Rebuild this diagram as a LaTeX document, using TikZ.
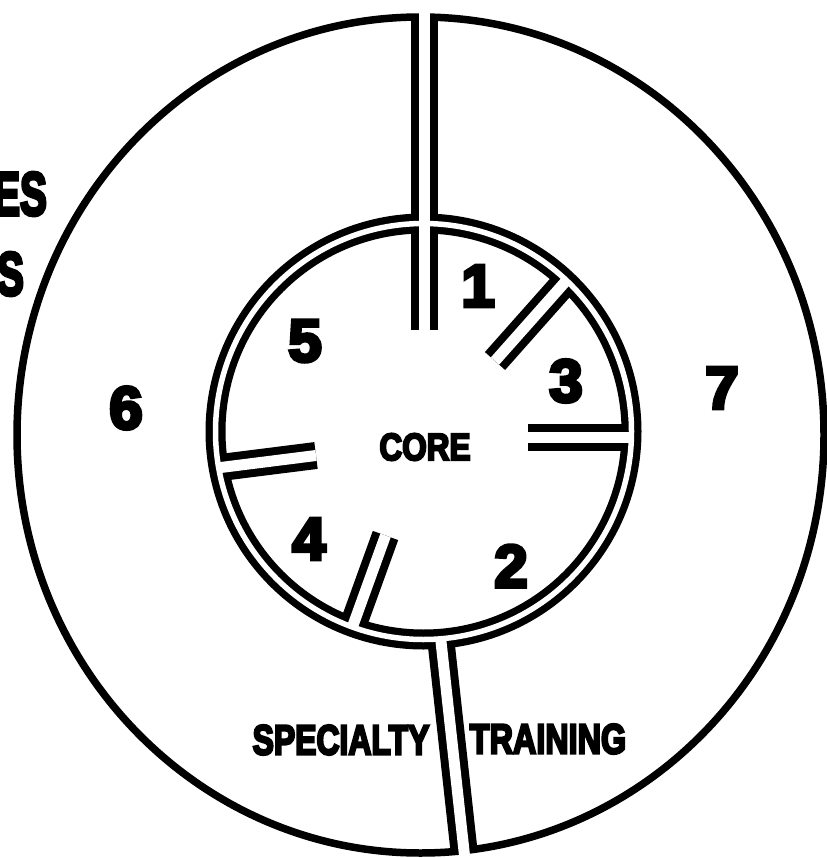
\documentclass[tikz,border=0pt]{standalone}
\usepackage{fontspec}
\newfontfamily\heavy{Liberation Sans}[BoldFeatures={FakeBold=6}]
\tikzset{
  wallout/.style={line width=27pt},
  wallin/.style={white,line width=11pt},
  ringout/.style={line width=20pt},
  ringin/.style={white,line width=5.5pt},
  num/.style={inner sep=0pt,font=\heavy\bfseries\fontsize{60}{60}\selectfont},
  word/.style={inner sep=0pt,font=\heavy\bfseries\fontsize{42}{42}\selectfont},
}
\begin{document}
\begin{tikzpicture}[x=1pt,y=-1pt]
  \useasboundingbox (0,0) rectangle (826,858);
  \coordinate (c) at (423.5,431.5);
  \coordinate (o) at (420.5,435);
  \coordinate (topin) at (424,330);
  \coordinate (topout) at (424,17);
  \coordinate (topcut) at (424,6);
  \coordinate (diagin) at (495,361);
  \coordinate (diagout) at (566,281);
  \coordinate (rightin) at (528,437.5);
  \coordinate (rightout) at (631.4,437.5);
  \coordinate (lowin) at (385.5,535.5);
  \coordinate (lowout) at (352.5,626.7);
  \coordinate (leftin) at (316,455.5);
  \coordinate (leftout) at (218.8,467.75);
  \coordinate (botin) at (440.7,639);
  \coordinate (botout) at (464,850.6);
  \coordinate (botcut) at (465,860);
  \draw[line width=7.5pt] (o) ellipse [x radius=403.5pt, y radius=418pt];
  \draw[ringout] (c) circle [radius=208pt];
  \foreach \a/\b in {topin/topout,diagin/diagout,rightin/rightout,lowin/lowout,leftin/leftout,botin/botout}
    \draw[wallout] (\a) -- (\b);
  \draw[ringin] (c) circle [radius=208pt];
  \foreach \a/\b in {topin/topcut,diagin/diagout,rightin/rightout,lowin/lowout,leftin/leftout,botin/botcut}
    \draw[wallin] (\a) -- (\b);
  \node[num] (one) at (478,286) {1};
  \node[num] (two) at (511,566) {2};
  \node[num] (three) at (566,381) {3};
  \node[num] (four) at (309,539) {4};
  \node[num] (five) at (305,341) {5};
  \node[num] (six) at (126,408) {6};
  \node[num] (seven) at (722,388) {7};
  \node[word,font=\heavy\bfseries\fontsize{38}{38}\selectfont,xscale=0.83] (core) at (425,447) {CORE};
  \node[word,xscale=0.76] (spec) at (341,740) {SPECIALTY};
  \node[word,xscale=0.77] (train) at (548,739) {TRAINING};
  \node[num,font=\heavy\bfseries\fontsize{61}{61}\selectfont,xscale=0.66,anchor=east] (es) at (47,194) {ES};
  \node[num,font=\heavy\bfseries\fontsize{61}{61}\selectfont,xscale=0.66,anchor=east] (s) at (24,274) {S};
\end{tikzpicture}
\end{document}
